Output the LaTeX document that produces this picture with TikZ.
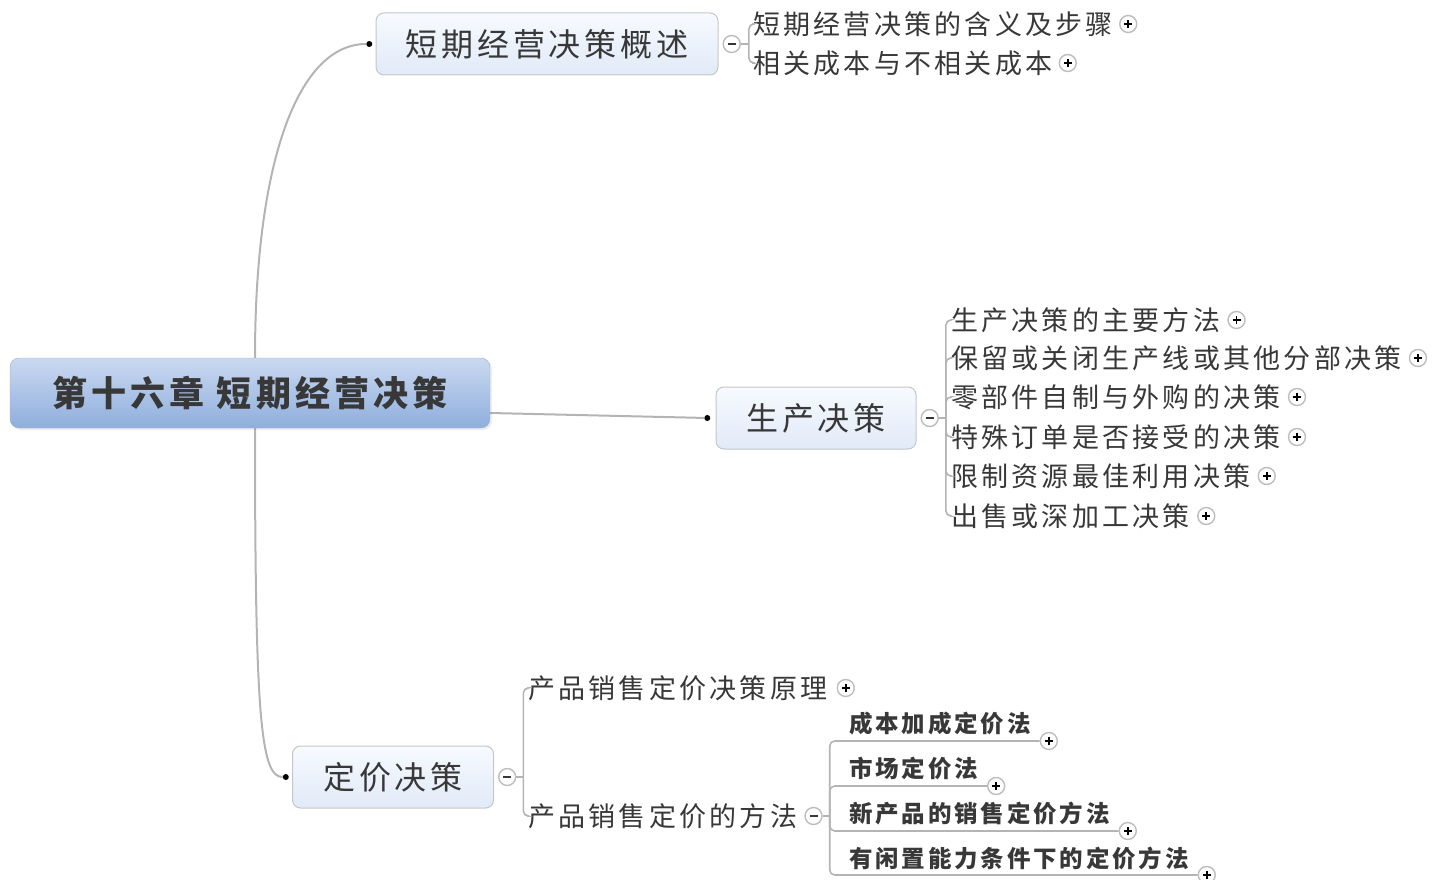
\documentclass[tikz,border=0pt]{standalone}
\usepackage{fontspec}
\newfontfamily\cjk[LetterSpace=12]{Noto Sans CJK SC}
\usetikzlibrary{positioning, calc, shadows, backgrounds}

\definecolor{linegray}{HTML}{B4B4B4}
\definecolor{textdark}{HTML}{383838}
\definecolor{titletop}{HTML}{CAD9F1}
\definecolor{titlebot}{HTML}{8FAEDC}
\definecolor{titleline}{HTML}{9DB0CF}
\definecolor{topictop}{HTML}{F7FAFF}
\definecolor{topicbot}{HTML}{E1EAF8}
\definecolor{topicline}{HTML}{C6C6C6}
\definecolor{btnline}{HTML}{BDBDBD}

\begin{document}
\begin{tikzpicture}[x=1pt, y=-1pt,
		title/.style={draw=titleline, rounded corners=9pt, top color=titletop, bottom color=titlebot, minimum width=480pt, minimum height=70pt, text=textdark, font=\cjk\bfseries\fontsize{35}{40}\selectfont, drop shadow={opacity=0.15, shadow xshift=2pt, shadow yshift=-2pt}},
		topic/.style={draw=topicline, line width=1pt, rounded corners=8pt, top color=topictop, bottom color=topicbot, minimum height=62pt, text=textdark, font=\cjk\fontsize{32}{36}\selectfont},
		sub/.style={anchor=west, inner sep=1pt, text=textdark, font=\cjk\fontsize{27}{30}\selectfont},
		leaf/.style={anchor=west, inner sep=1pt, text=textdark, font=\cjk\bfseries\fontsize{23.5}{26}\selectfont},
		dot/.style={circle, fill=black, inner sep=0pt, minimum size=6pt},
		branch/.style={draw=linegray, line width=2pt},
		bracket/.style={draw=linegray, line width=1.6pt, rounded corners=5pt},
		minusbtn/.style={circle, draw=btnline, fill=white, line width=1.4pt, inner sep=0pt, minimum size=17pt, path picture={\draw[line width=1.6pt, textdark] ([xshift=-4pt]path picture bounding box.center) -- ([xshift=4pt]path picture bounding box.center);}},
		plusbtn/.style={circle, draw=btnline, fill=white, line width=1.4pt, inner sep=0pt, minimum size=17pt, path picture={\draw[line width=1.6pt, black] ([xshift=-4pt]path picture bounding box.center) -- ([xshift=4pt]path picture bounding box.center) ([yshift=-4pt]path picture bounding box.center) -- ([yshift=4pt]path picture bounding box.center);}}
		]
		\useasboundingbox (0,0) rectangle (1444,880);
		
		% Chapter
		\node[title] (chap) at (250,393) {第十六章 短期经营决策};
		
		% Main topics
		\node[topic, minimum width=342pt] (overview) at (547,44) {短期经营决策概述};
		\node[topic, minimum width=200pt] (prod) at (816,418) {生产决策};
		\node[topic, minimum width=201pt] (price) at (393,777) {定价决策};
		
		\node[dot, left=3pt of overview] (d1) {};
		\node[dot, left=5pt of prod] (d2) {};
		\node[dot, left=3pt of price] (d3) {};
		
		% Branches from chapter
		\begin{scope}[on background layer]
			\draw[branch] ([xshift=5pt]chap.north) .. controls +(0,-200) and +(-70,0) .. (d1);
			\draw[branch] ([yshift=-20pt]chap.east) -- (d2);
			\draw[branch] ([xshift=5pt]chap.south) .. controls +(0,290) and +(-25,0) .. (d3);
		\end{scope}
		
		% Collapse buttons
		\node[minusbtn, right=4pt of overview] (c1) {};
		\node[minusbtn, right=4pt of prod] (c2) {};
		\node[minusbtn, right=4pt of price] (c3) {};
		\coordinate (b1) at ($(c1.east)+(8,0)$);
		\coordinate (b2) at ($(c2.east)+(7,0)$);
		\coordinate (b3) at ($(c3.east)+(7,0)$);
		
		% Overview items
		\node[sub] (o1) at (752,24) {短期经营决策的含义及步骤};
		\node[sub] (o2) at (752,63) {相关成本与不相关成本};
		\node[plusbtn, right=5pt of o1] (o1p) {};
		\node[plusbtn, right=5pt of o2] (o2p) {};
		\draw[bracket] (c1) -- (b1);
		\draw[bracket] (b1) |- (o1.west);
		\draw[bracket] (b1) |- (o2.west);
		
		% Production items
		\node[sub] (p1) at (950,320) {生产决策的主要方法};
		\node[sub] (p2) at (950,358) {保留或关闭生产线或其他分部决策};
		\node[sub] (p3) at (950,397) {零部件自制与外购的决策};
		\node[sub] (p4) at (950,437) {特殊订单是否接受的决策};
		\node[sub] (p5) at (950,476) {限制资源最佳利用决策};
		\node[sub] (p6) at (950,516) {出售或深加工决策};
		\node[plusbtn, right=6pt of p1] (p1p) {};
		\node[plusbtn, right=6pt of p2] (p2p) {};
		\node[plusbtn, right=6pt of p3] (p3p) {};
		\node[plusbtn, right=6pt of p4] (p4p) {};
		\node[plusbtn, right=6pt of p5] (p5p) {};
		\node[plusbtn, right=6pt of p6] (p6p) {};
		\draw[bracket] (c2) -- (b2);
		\draw[bracket] (b2) |- (p1.west);
		\draw[bracket] (b2) |- (p2.west);
		\draw[bracket] (b2) |- (p3.west);
		\draw[bracket] (b2) |- (p4.west);
		\draw[bracket] (b2) |- (p5.west);
		\draw[bracket] (b2) |- (p6.west);
		
		% Pricing items
		\node[sub] (q1) at (527,688) {产品销售定价决策原理};
		\node[sub] (q2) at (527,816) {产品销售定价的方法};
		\node[plusbtn, right=8pt of q1] (q1p) {};
		\node[minusbtn, right=6pt of q2] (c4) {};
		\coordinate (b4) at ($(c4.east)+(7,0)$);
		\draw[bracket] (c3) -- (b3);
		\draw[bracket] (b3) |- (q1.west);
		\draw[bracket] (b3) |- (q2.west);
		
		% Pricing methods (underlined)
		\node[leaf] (m1) at (848,724) {成本加成定价法};
		\node[leaf] (m2) at (848,769) {市场定价法};
		\node[leaf] (m3) at (848,814) {新产品的销售定价方法};
		\node[leaf] (m4) at (848,858) {有闲置能力条件下的定价方法};
		\node[plusbtn] (m1p) at ($(m1.east)+(17,17)$) {};
		\node[plusbtn] (m2p) at ($(m2.east)+(17,17)$) {};
		\node[plusbtn] (m3p) at ($(m3.east)+(17,17)$) {};
		\node[plusbtn] (m4p) at ($(m4.east)+(17,17)$) {};
		\draw[bracket] (c4) -- (b4);
		\draw[bracket] (b4) |- (m1p.west);
		\draw[bracket] (b4) |- (m2p.west);
		\draw[bracket] (b4) |- (m3p.west);
		\draw[bracket] (b4) |- (m4p.west);
		
	\end{tikzpicture}
\end{document}
